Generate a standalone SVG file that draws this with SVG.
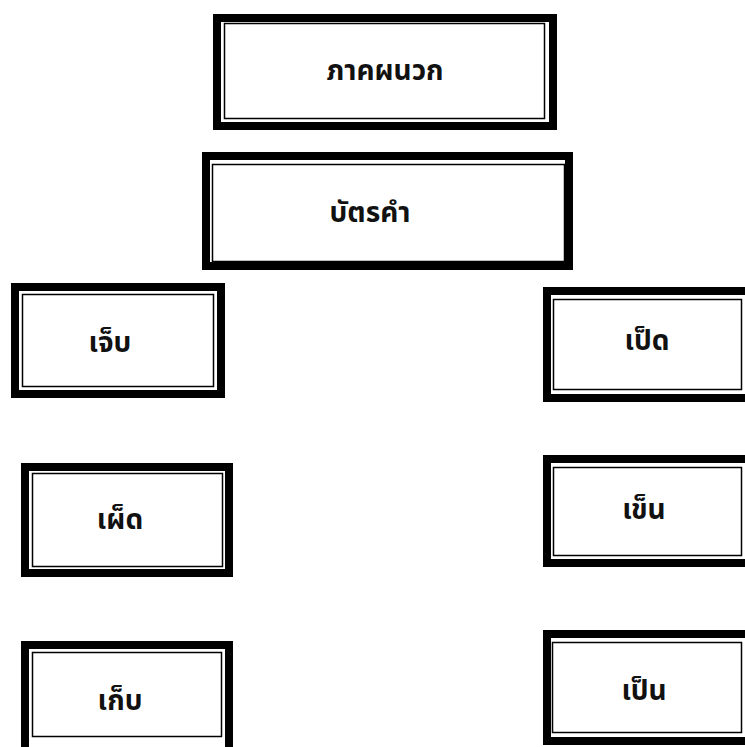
<svg xmlns="http://www.w3.org/2000/svg" width="745" height="747" viewBox="0 0 745 747">
<style>
.o{fill:#fff;stroke:#000;stroke-width:8}
.i{fill:none;stroke:#000;stroke-width:1.5}
.t{font-family:"Noto Sans Thai","Tahoma","Noto Sans","DejaVu Sans",sans-serif;font-weight:bold;font-size:28px;fill:#111;text-anchor:middle}
</style>
<rect width="745" height="747" fill="#fff"/>
<g id="n1"><rect class="o" x="217" y="18" width="336" height="108"/><rect class="i" x="224.5" y="23.5" width="320" height="95"/><text class="t" x="385" y="80">ภาคผนวก</text></g>
<g id="n2"><rect class="o" x="206" y="156" width="363" height="110"/><rect class="i" x="212.5" y="164.5" width="352" height="97"/><text class="t" x="370" y="222">บัตรคำ</text></g>
<g id="n3"><rect class="o" x="15" y="287" width="206" height="107"/><rect class="i" x="22.5" y="294.5" width="191" height="92"/><text class="t" x="110" y="352">เจ็บ</text></g>
<g id="n4"><rect class="o" x="25" y="467" width="204" height="106"/><rect class="i" x="32.5" y="473.5" width="190" height="93"/><text class="t" x="120" y="529">เผ็ด</text></g>
<g id="n5"><rect class="o" x="25" y="645" width="204" height="110"/><rect class="i" x="32.5" y="652.5" width="189" height="84"/><text class="t" x="120" y="710">เก็บ</text></g>
<g id="n6"><rect class="o" x="547" y="291" width="210" height="107"/><rect class="i" x="553.5" y="299.5" width="188" height="90"/><text class="t" x="647" y="350">เป็ด</text></g>
<g id="n7"><rect class="o" x="547" y="459" width="210" height="104"/><rect class="i" x="553.5" y="467.5" width="188" height="88"/><text class="t" x="644" y="519">เข็น</text></g>
<g id="n8"><rect class="o" x="547" y="634" width="210" height="107"/><rect class="i" x="552.5" y="642.5" width="189" height="90"/><text class="t" x="644" y="700">เป็น</text></g>
<g id="connectors"></g>
</svg>
